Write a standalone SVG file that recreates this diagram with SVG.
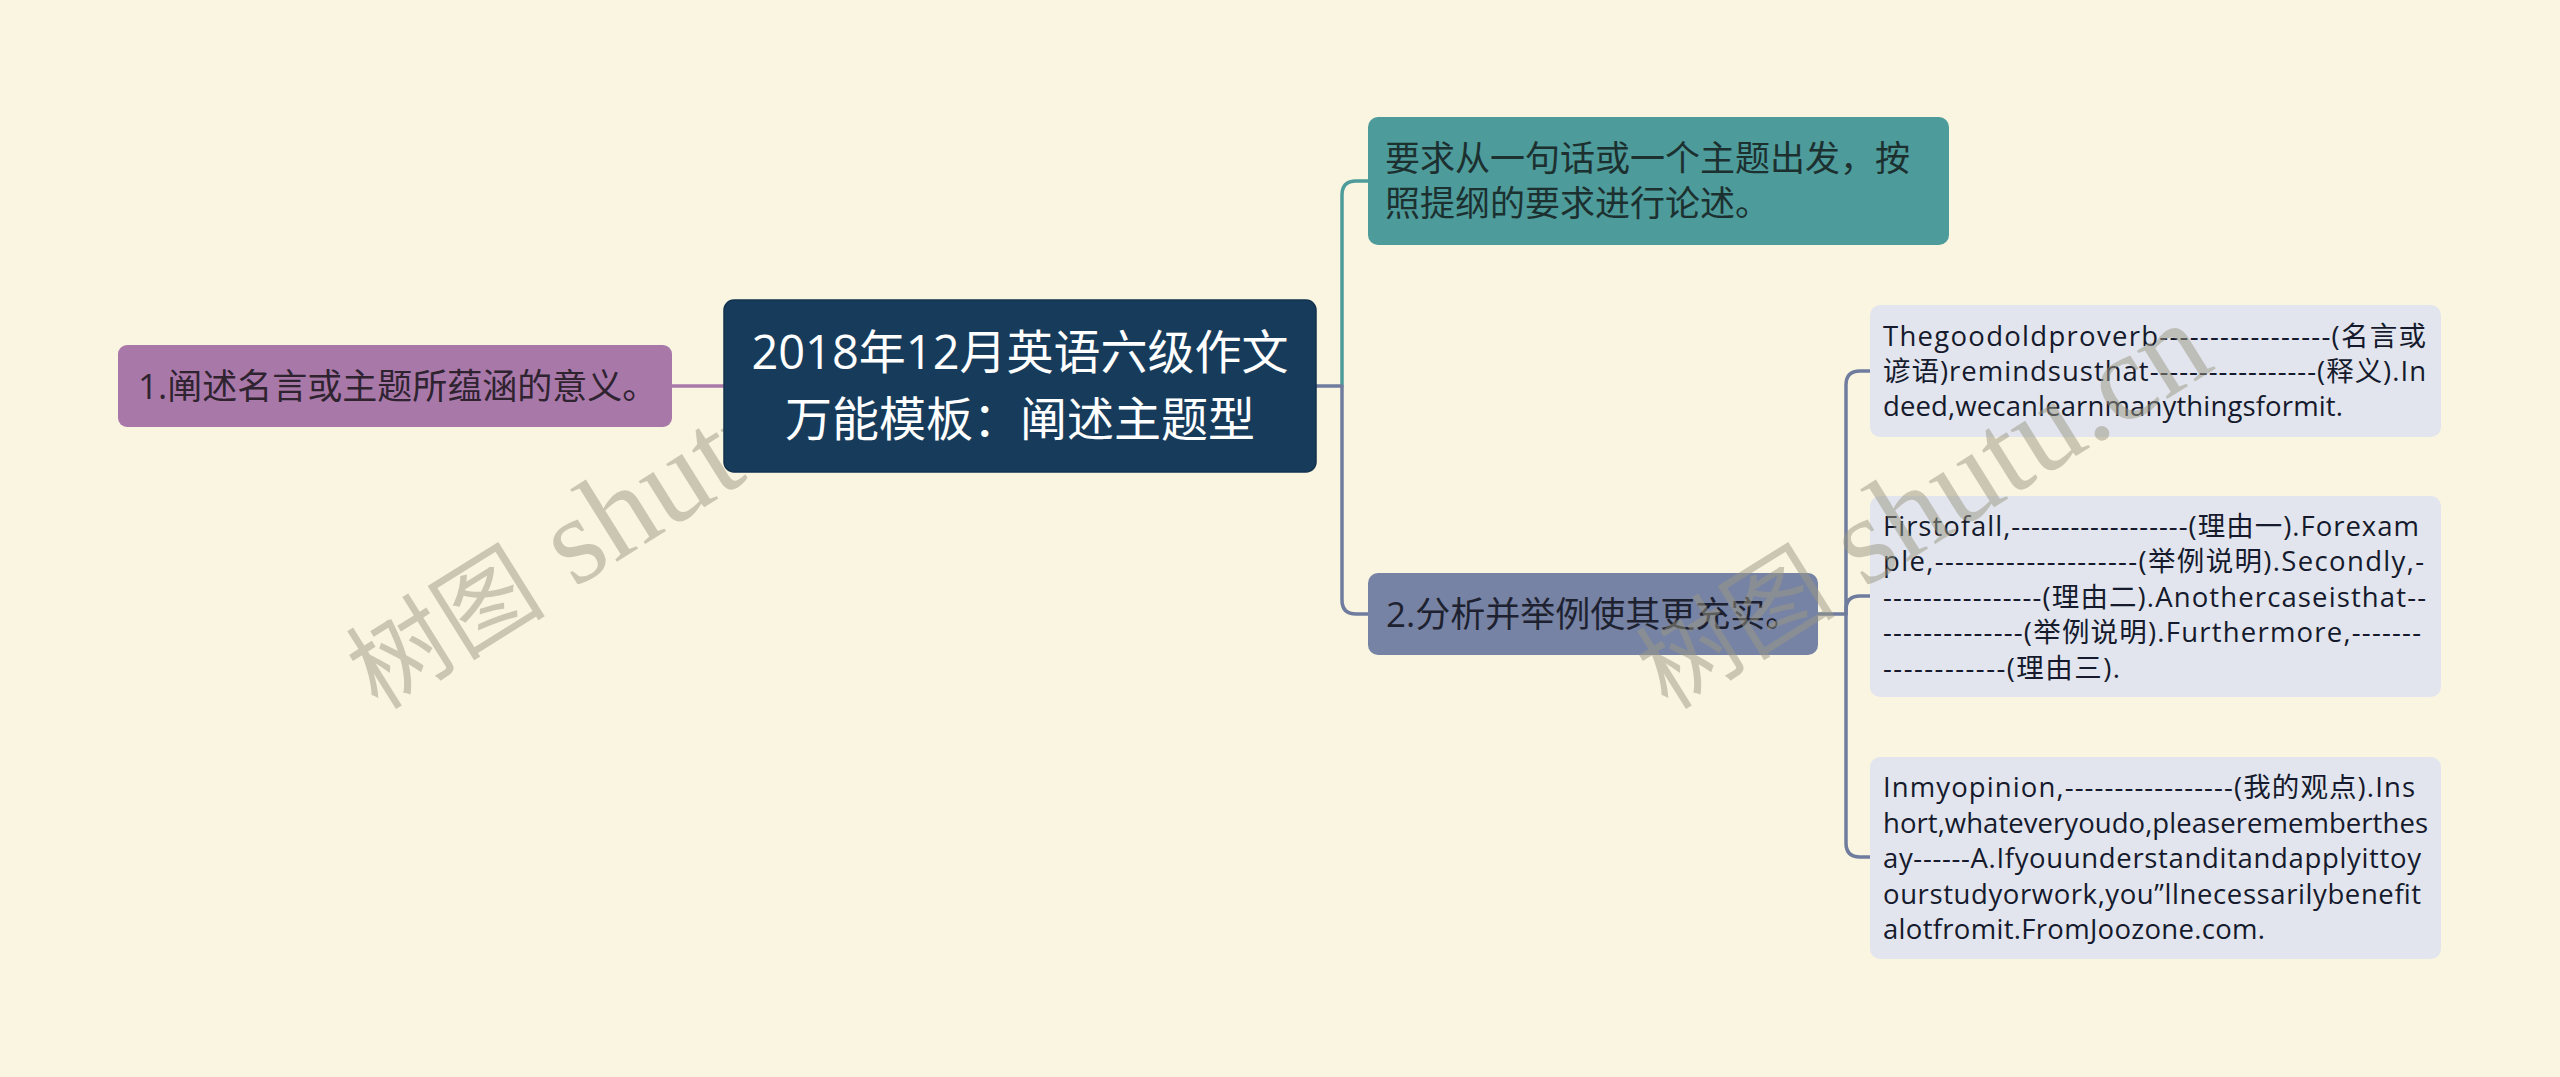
<svg xmlns="http://www.w3.org/2000/svg" width="2560" height="1077" viewBox="0 0 2560 1077">
<style>
.bg{fill:#faf5e0}
.conn{fill:none;stroke-width:3.5;stroke-linecap:round;stroke-linejoin:round}
.cp{stroke:#a878a9}.ct{stroke:#4d9b9a}.cs{stroke:#6f7c9d}
.root{fill:#173c5b;stroke:#12324d;stroke-width:1.5}
.rt{font-family:"Open Sans","Noto Sans CJK SC",sans-serif;font-size:47px;fill:#ffffff;text-anchor:middle}
.l1{font-family:"Open Sans","Noto Sans CJK SC",sans-serif;font-size:35px}
.dt{font-family:"Open Sans","Noto Sans CJK SC",sans-serif;font-size:27.5px;fill:#151a2c}
.det{fill:#e2e5ee}
.wm{font-family:"Liberation Serif","Noto Sans CJK SC",serif;font-size:100px;fill:#9c9986;opacity:0.5}
.wml{font-size:124px}
</style>
<rect class="bg" x="0" y="0" width="2560" height="1077"/>
<g id="connectors">
<path class="conn cp" d="M672 386 H724"/>
<path class="conn ct" d="M1342 386 V195 Q1342 181 1356 181 H1368"/>
<path class="conn cs" d="M1316 386 H1342 V600 Q1342 614 1356 614 H1368"/>
<path class="conn cs" d="M1818 614 H1846 V385 Q1846 371 1860 371 H1870"/>
<path class="conn cs" d="M1846 614 V610 Q1846 596 1860 596 H1870"/>
<path class="conn cs" d="M1846 614 V843 Q1846 857 1860 857 H1870"/>
</g>
<g id="node-left">
<rect x="118" y="345" width="554" height="82" rx="9" fill="#a878a9"/>
<text class="l1" x="138" y="399" fill="#2f2330">1.阐述名言或主题所蕴涵的意义。</text>
</g>
<g id="watermark-left">
<text class="wm" x="378" y="711" transform="rotate(-32 378 711)">树图<tspan class="wml"> shutu.cn</tspan></text>
</g>
<g id="node-root">
<rect class="root" x="724" y="300" width="592" height="172" rx="10"/>
<text class="rt" x="1020" y="369">2018年12月英语六级作文</text>
<text class="rt" x="1020" y="436">万能模板：阐述主题型</text>
</g>
<g id="node-req">
<rect x="1368" y="117" width="581" height="128" rx="10" fill="#4d9b9a"/>
<text class="l1" x="1385" y="171" fill="#1d3030">要求从一句话或一个主题出发，按</text>
<text class="l1" x="1385" y="216" fill="#1d3030">照提纲的要求进行论述。</text>
</g>
<g id="node-analyze">
<rect x="1368" y="573" width="450" height="82" rx="10" fill="#7683a4"/>
<text class="l1" x="1386" y="627" fill="#1e2230">2.分析并举例使其更充实。</text>
</g>
<g id="node-d1">
<rect class="det" x="1870" y="305" width="571" height="132" rx="10"/>
<text class="dt" x="1883" y="346" textLength="543" lengthAdjust="spacing">Thegoodoldproverb-----------------(名言或</text>
<text class="dt" x="1883" y="381" textLength="543" lengthAdjust="spacing">谚语)remindsusthat-----------------(释义).In</text>
<text class="dt" x="1883" y="416" textLength="460" lengthAdjust="spacing">deed,wecanlearnmanythingsformit.</text>
</g>
<g id="node-d2">
<rect class="det" x="1870" y="496" width="571" height="201" rx="10"/>
<text class="dt" x="1883" y="535.5" textLength="536" lengthAdjust="spacing">Firstofall,------------------(理由一).Forexam</text>
<text class="dt" x="1883" y="571" textLength="541" lengthAdjust="spacing">ple,--------------------(举例说明).Secondly,-</text>
<text class="dt" x="1883" y="606.5" textLength="543" lengthAdjust="spacing">----------------(理由二).Anothercaseisthat--</text>
<text class="dt" x="1883" y="642" textLength="538" lengthAdjust="spacing">--------------(举例说明).Furthermore,-------</text>
<text class="dt" x="1883" y="677.5" textLength="237" lengthAdjust="spacing">------------(理由三).</text>
</g>
<g id="node-d3">
<rect class="det" x="1870" y="757" width="571" height="202" rx="10"/>
<text class="dt" x="1883" y="797" textLength="532" lengthAdjust="spacing">Inmyopinion,-----------------(我的观点).Ins</text>
<text class="dt" x="1883" y="832.5" textLength="545" lengthAdjust="spacing">hort,whateveryoudo,pleaserememberthes</text>
<text class="dt" x="1883" y="868" textLength="538" lengthAdjust="spacing">ay------A.Ifyouunderstanditandapplyittoy</text>
<text class="dt" x="1883" y="903.5" textLength="538" lengthAdjust="spacing">ourstudyorwork,you”llnecessarilybenefit</text>
<text class="dt" x="1883" y="939" textLength="382" lengthAdjust="spacing">alotfromit.FromJoozone.com.</text>
</g>
<g id="watermark-right">
<text class="wm" x="1668" y="711" transform="rotate(-32 1668 711)">树图<tspan class="wml"> shutu.cn</tspan></text>
</g>
</svg>
